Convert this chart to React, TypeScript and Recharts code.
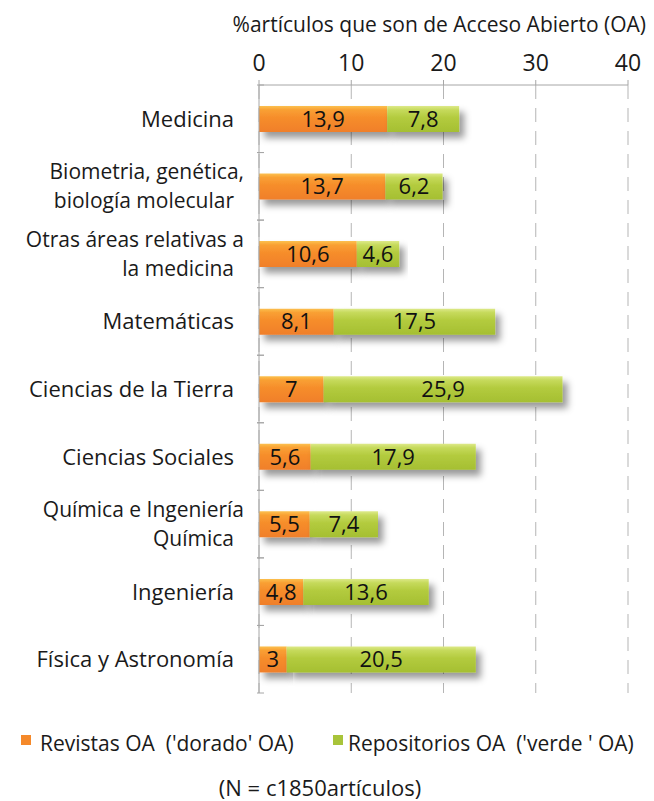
import React from 'react';
import { BarChart, Bar, XAxis, YAxis, CartesianGrid, LabelList } from 'recharts';

const categories = [
  'Medicina',
  'Biometria, genética,\nbiología molecular',
  'Otras áreas relativas a\nla medicina',
  'Matemáticas',
  'Ciencias de la Tierra',
  'Ciencias Sociales',
  'Química e Ingeniería\nQuímica',
  'Ingeniería',
  'Física y Astronomía',
];
const dorado = [13.9, 13.7, 10.6, 8.1, 7, 5.6, 5.5, 4.8, 3];
const verde = [7.8, 6.2, 4.6, 17.5, 25.9, 17.9, 7.4, 13.6, 20.5];
const xTicks = [0, 10, 20, 30, 40];

const data = categories.map((c, i) => ({ cat: c, dorado: dorado[i], verde: verde[i] }));

const FONT = '"Open Sans", "Noto Sans", sans-serif';

const fmt = (v: any) => String(v).replace('.', ',');

const CatTick = (props: any) => {
  const { x, y, payload } = props;
  const lines = String(payload.value).split('\n');
  const tx = x - 17;
  const half = payload && typeof payload.offset === 'number' ? payload.offset : 0;
  const axisX = x + 13;
  const marks = half > 0 ? (
    <g stroke="#a6a6a6" strokeWidth={1}>
      <line x1={axisX - 7} x2={axisX} y1={y - half} y2={y - half} />
      <line x1={axisX - 7} x2={axisX} y1={y + half} y2={y + half} />
    </g>
  ) : null;
  if (lines.length === 1) {
    return (
      <g>
        {marks}
        <text x={tx} y={y} dy={8} textAnchor="end" fontSize={22} fill="#1a1a1a" fontFamily={FONT}>
          {lines[0]}
        </text>
      </g>
    );
  }
  return (
    <g>
      {marks}
      <text x={tx} y={y} textAnchor="end" fontSize={21} fill="#1a1a1a" fontFamily={FONT}>
        <tspan x={tx + 10} dy={-7}>{lines[0]}</tspan>
        <tspan x={tx} dy={29}>{lines[1]}</tspan>
      </text>
    </g>
  );
};

export default function App() {
  return (
    <div style={{ position: 'absolute', left: 0, top: 0, width: 654, height: 801, background: '#fff', fontFamily: FONT, overflow: 'hidden' }}>
      <div style={{ position: 'absolute', left: 200, top: 10, width: 446, textAlign: 'right', fontSize: 21, color: '#1a1a1a', whiteSpace: 'nowrap' }}>
        %artículos que son de Acceso Abierto (OA)
      </div>
      <BarChart
        width={654}
        height={801}
        data={data}
        layout="vertical"
        margin={{ top: 45, right: 26, bottom: 108, left: 0 }}
        barSize={26}
      >
        <defs>
          <linearGradient id="gOrange" x1="0" y1="0" x2="0" y2="1">
            <stop offset="0%" stopColor="#fcc04e" />
            <stop offset="15%" stopColor="#f9a033" />
            <stop offset="45%" stopColor="#f68d2b" />
            <stop offset="100%" stopColor="#f07f2a" />
          </linearGradient>
          <linearGradient id="gGreen" x1="0" y1="0" x2="0" y2="1">
            <stop offset="0%" stopColor="#dde988" />
            <stop offset="15%" stopColor="#c6da5c" />
            <stop offset="45%" stopColor="#b3cb3e" />
            <stop offset="100%" stopColor="#a5bf32" />
          </linearGradient>
          <filter id="shadow" x="-10%" y="-30%" width="130%" height="190%">
            <feDropShadow dx="5" dy="6" stdDeviation="3.5" floodColor="#000" floodOpacity="0.4" />
          </filter>
        </defs>
        <CartesianGrid horizontal={false} stroke="#b5b5b5" strokeDasharray="14 9" />
        <XAxis
          type="number"
          orientation="top"
          domain={[0, 40]}
          ticks={xTicks}
          height={40}
          stroke="#a6a6a6"
          tickSize={5}
          tickMargin={9}
          tick={{ fontSize: 23, fill: '#1a1a1a', fontFamily: FONT }}
        />
        <YAxis
          type="category"
          dataKey="cat"
          width={259}
          stroke="#a6a6a6"
          tickLine={false}
          tick={<CatTick />}
          interval={0}
        />
        <Bar dataKey="dorado" stackId="a" fill="url(#gOrange)" isAnimationActive={false} style={{ filter: 'url(#shadow)' }}>
          <LabelList dataKey="dorado" position="center" formatter={fmt} fontSize={22} fill="#111" fontFamily={FONT} />
        </Bar>
        <Bar dataKey="verde" stackId="a" fill="url(#gGreen)" isAnimationActive={false} style={{ filter: 'url(#shadow)' }}>
          <LabelList dataKey="verde" position="center" formatter={fmt} fontSize={22} fill="#111" fontFamily={FONT} />
        </Bar>
      </BarChart>
      <div style={{ position: 'absolute', left: 21, top: 735, width: 10, height: 10, background: '#f5892a' }} />
      <div style={{ position: 'absolute', left: 40, top: 729, fontSize: 21, color: '#1a1a1a', whiteSpace: 'pre' }}>
        {"Revistas OA  ('dorado' OA)"}
      </div>
      <div style={{ position: 'absolute', left: 333, top: 735, width: 10, height: 10, background: '#a8c43a' }} />
      <div style={{ position: 'absolute', left: 348, top: 729, fontSize: 21, color: '#1a1a1a', whiteSpace: 'pre' }}>
        {"Repositorios OA  ('verde ' OA)"}
      </div>
      <div style={{ position: 'absolute', left: 0, top: 772, width: 640, textAlign: 'center', fontSize: 22, color: '#1a1a1a' }}>
        (N = c1850artículos)
      </div>
    </div>
  );
}
